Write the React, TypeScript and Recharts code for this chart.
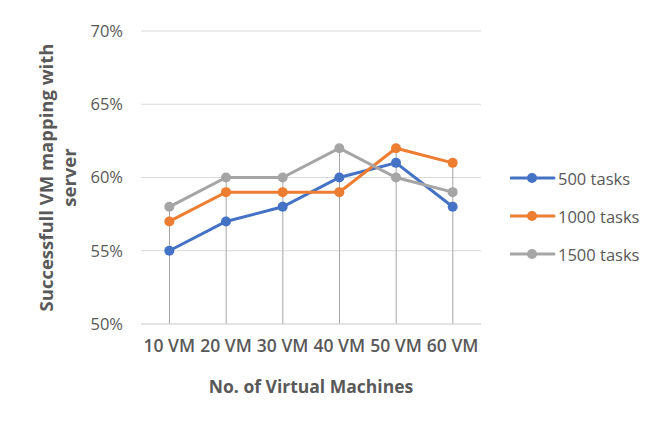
import React from "react";
import {
  ComposedChart,
  Line,
  Bar,
  XAxis,
  YAxis,
  CartesianGrid,
  Legend,
} from "recharts";

const CATEGORIES = ["10 VM", "20 VM", "30 VM", "40 VM", "50 VM", "60 VM"];
const TASKS_500 = [55, 57, 58, 60, 61, 58];
const TASKS_1000 = [57, 59, 59, 59, 62, 61];
const TASKS_1500 = [58, 60, 60, 62, 60, 59];
const Y_TICKS = [50, 55, 60, 65, 70];

const SERIES = [
  { key: "t500", name: "500 tasks", color: "#4472C4", values: TASKS_500 },
  { key: "t1000", name: "1000 tasks", color: "#ED7D31", values: TASKS_1000 },
  { key: "t1500", name: "1500 tasks", color: "#A5A5A5", values: TASKS_1500 },
];

const data = CATEGORIES.map((name, i) => {
  const row: Record<string, string | number> = { name };
  SERIES.forEach((s) => (row[s.key] = s.values[i]));
  // drop line goes from the highest point down to the axis
  row.top = Math.max(...SERIES.map((s) => s.values[i]));
  return row;
});

const FONT = "'Open Sans', sans-serif";
const TEXT = "#595959";

const YTitle = ({ viewBox }: any) => {
  const cy = viewBox.y + viewBox.height / 2;
  return (
    <g fontFamily={FONT} fontSize={18.5} fontWeight={700} fill={TEXT}>
      <text x={45} y={cy} textAnchor="middle" dominantBaseline="central" transform={`rotate(-90 45 ${cy})`}>
        Successfull VM mapping with
      </text>
      <text x={68} y={cy} textAnchor="middle" dominantBaseline="central" transform={`rotate(-90 68 ${cy})`}>
        server
      </text>
    </g>
  );
};

const LegendBox = () => (
  <div style={{ fontFamily: FONT, fontSize: 16.5, color: TEXT }}>
    {SERIES.map((s) => (
      <div key={s.key} style={{ display: "flex", alignItems: "center", height: 38 }}>
        <svg width={46} height={12} style={{ marginRight: 2 }}>
          <line x1={1} y1={6} x2={44} y2={6} stroke={s.color} strokeWidth={3} strokeLinecap="round" />
          <circle cx={22} cy={6} r={5} fill={s.color} />
        </svg>
        <span>{s.name}</span>
      </div>
    ))}
  </div>
);

export default function App() {
  return (
    <div style={{ position: "relative", width: 659, height: 421, margin: -8, background: "#fff", overflow: "hidden" }}>
      <div
        style={{
          position: "absolute",
          left: 6,
          top: 6,
          width: 700,
          height: 500,
          borderTop: "2px solid #d9d9d9",
          borderLeft: "2px solid #d9d9d9",
        }}
      />
      <ComposedChart
        width={659}
        height={421}
        data={data}
        margin={{ top: 31, right: 178, bottom: 27, left: 0 }}
        style={{ position: "absolute", left: 0, top: 0 }}
      >
        <CartesianGrid vertical={false} stroke="#d9d9d9" strokeWidth={1} />
        <XAxis
          dataKey="name"
          height={70}
          axisLine={{ stroke: "#d9d9d9" }}
          tickLine={false}
          tickSize={6}
          tickMargin={10}
          tick={{ fontFamily: FONT, fontSize: 17.5, fontWeight: 600, fill: TEXT }}
          interval={0}
          label={{
            value: "No. of Virtual Machines",
            position: "insideBottom",
            offset: 1,
            style: { fontFamily: FONT, fontSize: 17.5, fontWeight: 700, fill: TEXT },
          }}
        />
        <YAxis
          width={141}
          domain={[50, 70]}
          ticks={Y_TICKS}
          tickFormatter={(v) => `${v}%`}
          axisLine={false}
          tickLine={false}
          tickSize={6}
          tickMargin={12}
          tick={{ fontFamily: FONT, fontSize: 16.5, fill: TEXT }}
          label={{ content: YTitle }}
        />
        <Bar dataKey="top" barSize={1} fill="#a6a6a6" isAnimationActive={false} legendType="none" />
        {SERIES.map((s) => (
          <Line
            key={s.key}
            type="linear"
            dataKey={s.key}
            name={s.name}
            stroke={s.color}
            strokeWidth={3}
            dot={{ r: 5, fill: s.color, stroke: s.color, strokeWidth: 0 }}
            activeDot={false}
            isAnimationActive={false}
          />
        ))}
        <Legend
          layout="vertical"
          align="center"
          verticalAlign="middle"
          content={LegendBox}
          wrapperStyle={{ left: 510, top: 159, width: 148 }}
        />
      </ComposedChart>
    </div>
  );
}
